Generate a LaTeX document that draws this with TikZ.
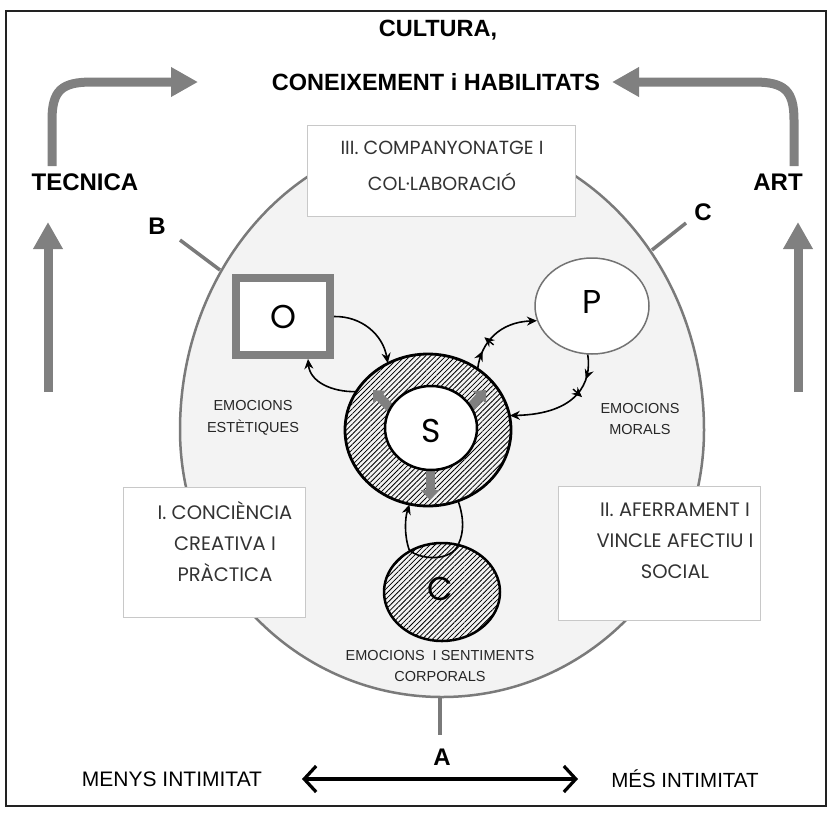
\documentclass[tikz,border=0pt]{standalone}
\usepackage{fontspec}
\setmainfont{Liberation Sans}
\newfontfamily\geo{Poppins}
\usetikzlibrary{arrows.meta,shapes.geometric,patterns.meta,decorations.markings}
\definecolor{frame}{HTML}{222222}
\definecolor{egg}{HTML}{F3F3F3}
\definecolor{eggline}{HTML}{7A7A7A}
\definecolor{bigarr}{HTML}{808080}
\definecolor{boxline}{HTML}{C8C8C8}
\tikzset{
  ttl/.style={font=\bfseries\fontsize{23.5}{28}\selectfont, inner sep=0pt},
  lbl/.style={font=\bfseries\fontsize{24}{28}\selectfont, inner sep=0pt},
  boxtext/.style={font=\geo\fontsize{19.5}{31}\selectfont, align=center, inner sep=0pt, text=black!80},
  emo/.style={font=\fontsize{14.5}{21.5}\selectfont, align=center, inner sep=0pt, text=black!85},
  intim/.style={font=\fontsize{21}{24}\selectfont, inner sep=0pt},
  letter/.style={font=\geo\fontsize{33}{36}\selectfont, inner sep=0pt},
  areabox/.style={draw=boxline, line width=1pt, fill=white, inner sep=0pt},
  bigarrow/.style={draw=bigarr, line width=9pt, -{Triangle[width=28pt,length=27pt]}},
  marker/.style={draw=eggline, line width=3.5pt},
  hatch/.style={pattern={Lines[angle=45,distance=3.6pt,line width=0.8pt]}},
  conn/.style={draw=black, line width=1.6pt, -{Stealth[length=10pt,width=9pt]}},
  ringmark/.style={draw=black!50, line width=9pt, -{Triangle[width=18pt,length=10pt]}},
  ticked/.style={postaction={decorate}, decoration={markings,
      mark=at position 0.22 with {\arrow{Stealth[length=10pt,width=9pt]}},
      mark=at position 0.36 with {\draw[line width=1.4pt] (0,-6pt) -- (0,6pt);}}},
}
\begin{document}
\begin{tikzpicture}[x=1pt,y=-1pt]
\useasboundingbox (0,0) rectangle (830,812);
\draw[frame, line width=1.5pt] (6,11) rectangle (826,806);

% titles
\node[ttl] (cult) at (438,30) {CULTURA,};
\node[ttl] (cone) at (436,82) {CONEIXEMENT i HABILITATS};

% big egg
\draw[eggline, fill=egg, line width=2.5pt]
  (704,430) arc[start angle=0, end angle=180, x radius=262, y radius=-295]
  arc[start angle=180, end angle=360, x radius=262, y radius=-267] -- cycle;
\coordinate (eggbot) at (440,697);
\coordinate (eggB) at (220,270);
\coordinate (eggC) at (652,250);

% area boxes
\node[areabox, minimum width=182pt, minimum height=130pt] (boxI) at (214,552) {};
\node[areabox, minimum width=202pt, minimum height=134pt] (boxII) at (659,553) {};
\node[areabox, minimum width=268pt, minimum height=91pt] (boxIII) at (441,170.5) {};
\node[boxtext] (tI) at (225,542) {I. CONCIÈNCIA\\CREATIVA I\\PRÀCTICA};
\node[boxtext] (tII) at (675,541) {II. AFERRAMENT I\\VINCLE AFECTIU I\\SOCIAL};
\node[boxtext, font=\geo\fontsize{19}{36}\selectfont] (tIII) at (442,166) {III. COMPANYONATGE I\\COL·LABORACIÓ};

% emotions labels
\node[emo] (emoE) at (253,418) {EMOCIONS\\ESTÈTIQUES};
\node[emo] (emoM) at (640,419) {EMOCIONS\\MORALS};
\node[emo] (emoC) at (440,666) {EMOCIONS\ \ I SENTIMENTS\\CORPORALS};

% O, P
\node[draw=bigarr, line width=8pt, fill=white, minimum width=94pt, minimum height=77pt, inner sep=0pt] (O) at (283,316.5) {};
\node[letter] at (O.center) {O};
\node[ellipse, draw=black!55, line width=1.5pt, fill=white, minimum width=114pt, minimum height=96pt, inner sep=0pt] (P) at (592,306) {};
\node[letter] at (592,302) {P};

% S ring
\node[ellipse, draw=black, line width=2.8pt, hatch, minimum width=166pt, minimum height=152pt, inner sep=0pt] (Sring) at (428,430) {};
\draw[ringmark] (394,412) -- (373,390);
\draw[ringmark] (466,412) -- (486,390);
\draw[ringmark] (430,468) -- (430,500);
\node[ellipse, draw=black, line width=2.5pt, fill=white, minimum width=92pt, minimum height=84pt, inner sep=0pt] (S) at (431,428) {};
\node[letter] at (431,431) {S};

% C
\node[ellipse, draw=black, line width=2.5pt, hatch, minimum width=116pt, minimum height=98pt, inner sep=0pt] (Cc) at (442,592) {};
\node[letter] at (440,589) {C};

% loop C - S
\draw[conn] (Cc.128) .. controls (404,535) and (405,518) .. (Sring.256);
\draw[line width=1.6pt] (Sring.293) .. controls (464,518) and (464,532) .. (Cc.71);
\draw[line width=1.6pt] (Cc.128) .. controls (420,560) and (452,562) .. (Cc.71);

% O <-> S
\draw[conn] (O.east) .. controls (362,316) and (383,335) .. (Sring.121);
\draw[conn] (Sring.152) .. controls (332,392) and (310,382) .. ([xshift=25pt]O.south);

% S <-> P
\draw[conn, ticked] (Sring.51) .. controls (481,342) and (500,322) .. (P.195);
\draw[conn, ticked] (P.265) .. controls (592,382) and (578,414) .. (Sring.10);

% markers A B C
\node[lbl] (A) at (442,757) {A};
\node[lbl] (B) at (157,226) {B};
\node[lbl] (Cl) at (703,212) {C};
\coordinate (Aend) at (440,735);
\coordinate (Bend) at (180,240);
\coordinate (Cend) at (686,223);
\draw[marker] (eggbot) -- (Aend);
\draw[marker] (eggB) -- (Bend);
\draw[marker] (eggC) -- (Cend);

% intimacy axis
\node[intim] (menys) at (172,779) {MENYS INTIMITAT};
\node[intim, font=\fontsize{20.5}{24}\selectfont] (mes) at (685,779) {MÉS INTIMITAT};
\coordinate (axL) at (302,779);
\coordinate (axR) at (578,779);
\draw[line width=3.2pt, {Straight Barb[length=12pt,width=26pt]}-{Straight Barb[length=12pt,width=26pt]}] (axL) -- (axR);

% tecnica / art
\node[lbl] (tec) at (85,182) {TECNICA};
\node[lbl] (art) at (778,182) {ART};
\coordinate (tecLow) at (48,392);
\coordinate (tecTip) at (48,222);
\coordinate (artLow) at (798,392);
\coordinate (artTip) at (798,222);
\draw[bigarrow] (tecLow) -- (tecTip);
\draw[bigarrow] (artLow) -- (artTip);
\coordinate (tecUp) at (52,166);
\coordinate (artUp) at (794,166);
\coordinate (leftTip) at (198,82);
\coordinate (rightTip) at (612,82);
\draw[bigarrow] (tecUp) -- (52,120) .. controls (52,90) and (62,82) .. (92,82) -- (leftTip);
\draw[bigarrow] (artUp) -- (794,120) .. controls (794,90) and (784,82) .. (754,82) -- (rightTip);
\end{tikzpicture}
\end{document}
